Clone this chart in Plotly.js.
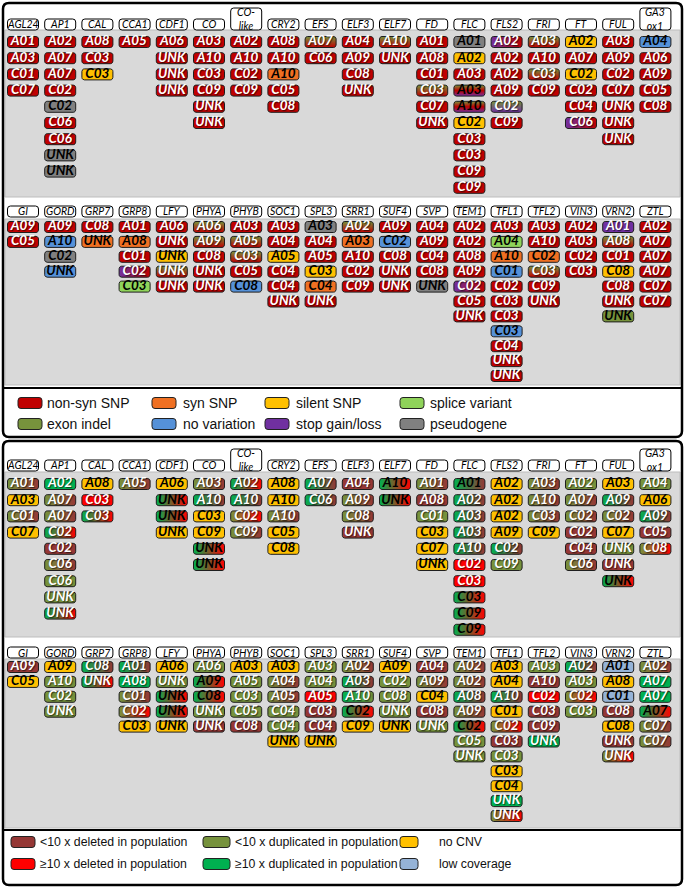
<!DOCTYPE html>
<html>
<head>
<meta charset="utf-8">
<script src="https://cdn.plot.ly/plotly-3.0.1.min.js"></script>
<style>html,body{margin:0;padding:0;background:#fff}#chart{width:685px;height:888px}</style>
</head>
<body>
<div id="chart"></div>
<script>
// gene columns (same order in both panels)
const genesA = ['AGL24','AP1','CAL','CCA1','CDF1','CO','CO-like','CRY2','EFS','ELF3','ELF7','FD','FLC','FLS2','FRI','FT','FUL','GA3ox1'];
const genesB = ['GI','GORD','GRP7','GRP8','LFY','PHYA','PHYB','SOC1','SPL3','SRR1','SUF4','SVP','TEM1','TFL1','TFL2','VIN3','VRN2','ZTL'];

// "copy  key" ; '-' vertical blend, '>' horizontal blend, '*' swaps text colour
const snpA = [
  ['A01 R','A03 R','C01 R','C07 R'],
  ['A02 R','A07 R','A07 R','C02 R','C02 K','C06 R','C06 R','UNK K','UNK K'],
  ['A08 R','C03 R','C03 Y'],
  ['A05 R'],
  ['A06 R','UNK R','UNK R','UNK R'],
  ['A03 R','A10 R','C03 R','C09 R','UNK R','UNK R'],
  ['A02 R','A10 R','C02 R','C09 R'],
  ['A08 R','A10 R','A10 O','C05 R','C08 R'],
  ['A07 G-R','C06 R'],
  ['A04 R','A09 R','C08 R','UNK R'],
  ['A10 G-R','UNK R'],
  ['A01 R','A08 R','C01 R','C03 G-R','C07 R','UNK R'],
  ['A01 K','A02 Y','A03 R','A03 G-R-P*','A10 G-R-P*','C02 Y','C03 R','C03 R','C09 R','C09 R'],
  ['A02 P>R','A02 R','A02 R','A09 R','C02 G-P','C09 R'],
  ['A03 G-R','A10 R','C03 G-R','C09 R'],
  ['A02 Y','A07 R','C02 Y','C02 R','C04 R','C06 P>R'],
  ['A03 R','A09 R','C02 R','C07 R','UNK R','UNK R','UNK R'],
  ['A04 B','A06 R','A09 R','C05 R','C08 R']
];
const snpB = [
  ['A09 R','C05 R'],
  ['A09 R','A10 B','C02 K','UNK B'],
  ['C08 R','UNK O'],
  ['A01 R','A08 O','C01 R','C02 P>R','C03 L'],
  ['A06 R','UNK R','UNK Y','UNK G-R','UNK R'],
  ['A06 G-R','A09 G-R','C08 R','UNK R','UNK R'],
  ['A03 R','A05 G-R','C03 G-R','C05 R','C08 B'],
  ['A03 R','A04 R','A05 Y','C04 R','C04 R','UNK R'],
  ['A03 K','A04 R','A05 R','C03 Y','C04 O','UNK R'],
  ['A02 G-R','A03 O','A10 R','C02 R','C09 R'],
  ['A09 R','C02 B','C08 R','UNK R','UNK R'],
  ['A04 R','A09 R','C04 R','C08 R','UNK K'],
  ['A02 R','A02 R','A08 R','A09 R','C02 P>R','C05 R','UNK R'],
  ['A03 R','A04 L','A10 O','C01 B','C02 R','C03 R','C03 R','C03 B','C04 R','UNK R','UNK R'],
  ['A03 R','A10 R','C02 O','C03 G-R','C09 R','UNK R'],
  ['A02 R','A03 R','C02 R','C03 R'],
  ['A01 P','A08 G-R','C01 R','C08 Y','C08 R','UNK R','UNK G*'],
  ['A02 R','A07 R','A07 R','A07 R','C07 R','C07 R']
];
const cnvA = [
  ['A01 u>d','A03 N','C01 u>d','C07 N'],
  ['A02 U','A07 u>d','A07 u>d','C02 U>D','C02 d','C06 u>d','C06 u','UNK u','UNK U>D'],
  ['A08 N','C03 D','C03 U>D'],
  ['A05 u>d'],
  ['A06 N','UNK U>D*','UNK U>D*','UNK N'],
  ['A03 u>d','A10 U>d','C03 N','C09 N','UNK U>D*','UNK U>D*'],
  ['A02 U>D','A10 U>d','C02 u>D','C09 u>d'],
  ['A08 N','A10 N','A10 u>d','C05 N','C08 N'],
  ['A07 U>d','C06 U>d'],
  ['A04 d','A09 u>d','C08 u>d','UNK d'],
  ['A10 U>D*','UNK U>D*'],
  ['A01 u>d','A08 d','C01 u','C03 N','C07 N','UNK N'],
  ['A01 U>d*','A02 U>d','A03 U>d','A03 U>d','A10 U>d','C02 D','C03 D','C03 U>D*','C09 U>D*','C09 U>D*'],
  ['A02 N','A02 N','A02 N','A09 N','C02 U>d','C09 u'],
  ['A03 u>d','A10 u>d','C03 u>d','C09 N'],
  ['A02 u','A07 u>d','C02 u>d','C02 d','C04 d','C06 u>d'],
  ['A03 N','A09 U>d','C02 u>d','C07 N','UNK u','UNK d','UNK U>D*'],
  ['A04 u','A06 N','A09 U>d','C05 d','C08 u>D']
];
const cnvB = [
  ['A09 d','C05 N'],
  ['A09 N','A10 u','C02 u','UNK u'],
  ['C08 U>d','UNK U>D'],
  ['A01 U>d','A08 U','C01 u>d','C02 u>D','C03 N'],
  ['A06 N','UNK u','UNK U>D*','UNK U>D*','UNK N'],
  ['A06 u','A09 U>D*','C08 U>D*','UNK u','UNK d'],
  ['A03 N','A05 u','C03 u','C05 u','C08 d'],
  ['A03 N','A04 u>d','A05 u>d','C04 u','C04 u','UNK N'],
  ['A03 u','A04 u','A05 D','C03 d','C04 d','UNK N'],
  ['A02 u>d','A03 U>d','A10 U>u','C02 U>D*','C09 N'],
  ['A09 N','C02 u','C08 u','UNK u','UNK N'],
  ['A04 d','A09 u>d','C04 N','C08 d','UNK u'],
  ['A02 u>d','A02 u>d','A08 U>d','A09 u>d','C02 U>D*','C05 u','UNK u'],
  ['A03 N','A04 N','A10 U>d','C01 N','C02 u>D','C03 d','C03 u','C03 N','C04 N','UNK U','UNK u>D'],
  ['A03 u','A10 d','C02 D','C03 d','C09 d','UNK U'],
  ['A02 U>d','A03 u','C02 u>D','C03 u'],
  ['A01 W','A08 N','C01 W','C08 d','C08 N','UNK d','UNK u>D'],
  ['A02 u>d','A07 U','A07 U','A07 U>D*','C07 u>d','C07 u>d']
];

const snpKeys = ['R','O','Y','L','G','B','P','K'];
const snpLabels = ['non-syn SNP','syn SNP','silent SNP','splice variant','exon indel','no variation','stop gain/loss','pseudogene'];
const cnvKeys = ['d','u','N','D','U','W'];
const cnvLabels = ['<10 x deleted in population','<10 x duplicated in population','no CNV','≥10 x deleted in population','≥10 x duplicated in population','low coverage'];

const fills = {R:'#c00000',O:'#f07022',Y:'#ffc000',L:'#8fd35a',G:'#77933c',B:'#5591d8',P:'#7030a0',K:'#808080',
               d:'#953735',D:'#ff0000',u:'#76923c',U:'#00b050',N:'#ffc000',W:'#95b3d7'};
const blackText = 'OYLBKNW';

const W = 685, H = 888;
const colW = 37.2, col0 = 23;
const bw = 31, bh = 11, br = 2.5;
const py = p => 1 - p / H;
const BADGE_FONT = 'Lato, "Open Sans", sans-serif';
const LEG_FONT = '"Liberation Sans Narrow", "Arial Narrow", "Liberation Sans", sans-serif';

const grids = [
  {data: snpA, genes: genesA, top: 30,  bot: 197, row0: 42,  dy: 16.2, head: 24.5,  ax: 'y'},
  {data: snpB, genes: genesB, top: 219, bot: 385, row0: 227, dy: 14.9, head: 211.5, ax: 'y2'},
  {data: cnvA, genes: genesA, top: 472, bot: 637, row0: 484, dy: 16.2, head: 465.5, ax: 'y3'},
  {data: cnvB, genes: genesB, top: 659, bot: 828, row0: 667, dy: 14.9, head: 652.5, ax: 'y4'}
];

function parseBadge(s) {
  let [label, spec] = s.split(' ');
  let swap = spec.endsWith('*');
  if (swap) spec = spec.slice(0, -1);
  let dir = spec.includes('>') ? 'horizontal' : (spec.includes('-') ? 'vertical' : null);
  let keys = spec.split(/[->]/);
  let dark = blackText.includes(keys[0]);
  if (swap) dark = !dark;
  return {label, keys, dir, dark};
}

function rpath(x0, y0, x1, y1, rx, ry) {
  return `M${x0+rx},${y0} L${x1-rx},${y0} Q${x1},${y0} ${x1},${y0+ry} L${x1},${y1-ry} Q${x1},${y1} ${x1-rx},${y1} ` +
         `L${x0+rx},${y1} Q${x0},${y1} ${x0},${y1-ry} L${x0},${y0+ry} Q${x0},${y0} ${x0+rx},${y0} Z`;
}

function badgePoly(cx, cy, g) {
  let hw = bw / 2 / colW, hh = bh / 2 / g.dy, rx = br / colW, ry = br / g.dy;
  let xs = [], ys = [];
  let cs = [[cx+hw-rx, cy+hh-ry, 0], [cx-hw+rx, cy+hh-ry, 90], [cx-hw+rx, cy-hh+ry, 180], [cx+hw-rx, cy-hh+ry, 270]];
  cs.forEach(([ax, ay, a0]) => {
    for (let k = 0; k <= 4; k++) {
      let a = (a0 + k * 22.5) * Math.PI / 180;
      xs.push(ax + rx * Math.cos(a)); ys.push(ay + ry * Math.sin(a));
    }
  });
  xs.push(xs[0]); ys.push(ys[0]);
  return {xs, ys, hw, hh};
}

let traces = [], shapes = [], annotations = [];
let layout = {
  width: W, height: H, margin: {l: 0, r: 0, t: 0, b: 0},
  paper_bgcolor: '#fff', plot_bgcolor: 'rgba(0,0,0,0)', showlegend: false,
  xaxis: {domain: [(col0 - colW / 2) / W, (col0 + 17.5 * colW) / W], range: [-0.5, 17.5], visible: false, fixedrange: true, anchor: 'y'}
};

grids.forEach((g, gi) => {
  let key = gi === 0 ? 'yaxis' : 'yaxis' + (gi + 1);
  layout[key] = {domain: [py(g.bot), py(g.top)], range: [(g.bot - g.row0) / g.dy, -(g.row0 - g.top) / g.dy],
                 visible: false, fixedrange: true, anchor: 'x'};
  // grey backdrop
  shapes.push({type: 'rect', xref: 'paper', yref: 'paper', x0: 5 / W, x1: 680 / W, y0: py(g.bot), y1: py(g.top),
               fillcolor: '#d9d9d9', line: {color: '#bdbdbd', width: 1}, layer: 'below'});
  let tw = {x: [], y: [], text: []}, tb = {x: [], y: [], text: []};
  g.data.forEach((col, ci) => {
    col.forEach((s, ri) => {
      let b = parseBadge(s);
      let p = badgePoly(ci, ri, g);
      let tr = {type: 'scatter', mode: 'lines', x: p.xs, y: p.ys, xaxis: 'x', yaxis: g.ax, fill: 'toself',
                fillcolor: fills[b.keys[0]], line: {color: '#1e1e1e', width: 1}, hoverinfo: 'skip'};
      if (b.dir) {
        let n = b.keys.length;
        let h = b.dir === 'horizontal';
        tr.fillgradient = {type: b.dir, colorscale: b.keys.map((k, i) => [i / (n - 1), fills[k]]),
                           start: h ? ci - p.hw : ri - p.hh, stop: h ? ci + p.hw : ri + p.hh};
      }
      traces.push(tr);
      let t = b.dark ? tb : tw;
      t.x.push(ci); t.y.push(ri); t.text.push(b.label);
    });
  });
  [[tw, '#ffffff'], [tb, '#000000']].forEach(([t, c]) => {
    traces.push({type: 'scatter', mode: 'text', x: t.x, y: t.y, text: t.text, xaxis: 'x', yaxis: g.ax,
                 textposition: 'middle center', cliponaxis: false, hoverinfo: 'skip',
                 textfont: {family: BADGE_FONT, size: 13.5, weight: 'bold', style: 'italic', color: c,
                            shadow: c === '#ffffff' ? '1px 1px 1px rgba(0,0,0,0.6)' : 'none'}});
  });
  // gene name boxes above each column
  g.genes.forEach((name, ci) => {
    let tall = name === 'CO-like' || name === 'GA3ox1';
    let bBot = g.head + 5.5, bTop = tall ? bBot - 22 : g.head - 5.5;
    shapes.push({type: 'path', xref: 'x', yref: 'paper',
                 path: rpath(ci - 15.5 / colW, py(bBot), ci + 15.5 / colW, py(bTop), 3 / colW, 3 / H),
                 fillcolor: '#fff', line: {color: '#000', width: 1}});
    let label = name === 'CO-like' ? 'CO-<br>like' : (name === 'GA3ox1' ? 'GA3<br>ox1' : name);
    annotations.push({xref: 'x', yref: 'paper', x: ci, y: py((bTop + bBot) / 2), text: label, showarrow: false,
                      font: {family: BADGE_FONT, size: 10.5, style: 'italic', color: '#000'}, xanchor: 'center', yanchor: 'middle'});
  });
});

// panel frames and legend dividers
[[3, 437, 388], [441, 885, 830]].forEach(([t, b, l]) => {
  shapes.push({type: 'path', xref: 'paper', yref: 'paper', path: rpath(3 / W, py(b), 682 / W, py(t), 6 / W, 6 / H),
               line: {color: '#000', width: 2.5}, fillcolor: 'rgba(0,0,0,0)'});
  shapes.push({type: 'line', xref: 'paper', yref: 'paper', x0: 3 / W, x1: 682 / W, y0: py(l), y1: py(l), line: {color: '#000', width: 2}});
});

function legend(keys, labels, cols, swW, txX, rows, fs) {
  let nc = cols.length;
  keys.forEach((k, i) => {
    let c = i % nc, r = Math.floor(i / nc), y = rows[r];
    shapes.push({type: 'path', xref: 'paper', yref: 'paper',
                 path: rpath(cols[c] / W, py(y + 5.5), (cols[c] + swW[c]) / W, py(y - 5.5), 3 / W, 3 / H),
                 fillcolor: fills[k], line: {color: '#222', width: 1}});
    annotations.push({xref: 'paper', yref: 'paper', x: txX[c] / W, y: py(y), xanchor: 'left', yanchor: 'middle',
                      text: labels[i].replace(/</g, '&lt;'), showarrow: false,
                      font: {family: LEG_FONT, size: fs, color: '#111'}});
  });
}
legend(snpKeys, snpLabels, [18, 152, 265, 400], [24, 24, 24, 24], [45, 181, 294, 428], [403, 424], 14);
legend(cnvKeys, cnvLabels, [11, 203, 400], [24, 27, 18], [38, 233, 437], [842, 864], 12.3);

layout.shapes = shapes;
layout.annotations = annotations;
Plotly.newPlot('chart', traces, layout, {staticPlot: true, displayModeBar: false});
</script>
</body>
</html>
